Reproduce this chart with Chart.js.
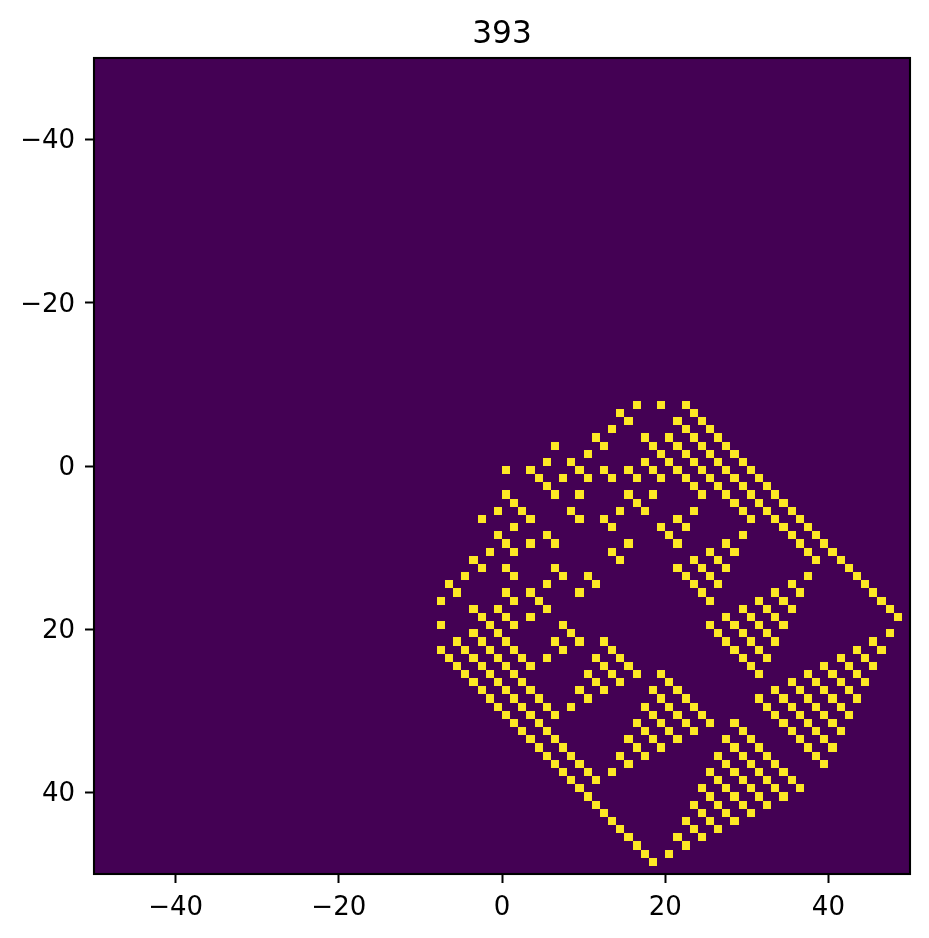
<!DOCTYPE html>
<html>
<head>
<meta charset="utf-8">
<style>html,body{margin:0;padding:0;background:#fff}canvas{display:block}</style>
<script src="https://cdn.jsdelivr.net/npm/chart.js@4/dist/chart.umd.js"></script>
</head>
<body>
<canvas id="c" width="929" height="938"></canvas>
<script>
const chartTitle = '393';
const tickValues = [-40, -20, 0, 20, 40];
const axisMin = -50;
const axisMax = 50;
const rowStart = -8;
// lit cell columns, one list per row, starting at rowStart
const rowColumns = [
[16,19,22],
[14,23],
[15,21,24],
[13,22,25],
[11,17,20,23,26],
[6,12,18,21,24,27],
[10,19,22,25,28],
[5,8,17,20,23,26,29],
[0,3,9,12,15,18,21,24,27,30],
[4,7,10,13,16,19,22,25,28,31],
[5,23,26,29,32],
[0,6,9,15,18,24,27,30,33],
[1,16,28,31,34],
[-1,2,8,14,17,23,29,32,35],
[-3,3,9,12,21,30,33,36],
[1,13,19,22,34,37],
[-1,5,20,29,35,38],
[0,3,6,15,21,27,36,39],
[-2,1,13,25,28,37,40],
[-4,14,23,26,38,41],
[-3,0,6,21,24,27,42],
[-5,1,7,10,22,25,37,43],
[-7,5,11,23,26,35,44],
[-6,0,3,9,24,33,36,45],
[-8,1,4,25,31,34,46],
[-4,-1,5,29,32,35,47],
[-3,0,3,27,30,33,48],
[-8,-2,1,7,25,28,31,34],
[-4,-1,8,26,29,32,47],
[-6,-3,0,6,9,12,27,30,33,45],
[-8,-5,-2,1,7,13,28,31,43,46],
[-7,-4,-1,2,5,11,14,29,32,41,44],
[-6,-3,0,3,12,15,30,39,42,45],
[-5,-2,1,10,13,16,19,31,37,40,43],
[-4,-1,2,11,14,20,35,38,41,44],
[-3,0,3,9,12,18,21,33,36,39,42],
[-2,1,4,10,19,22,31,34,37,40,43],
[-1,2,5,8,17,20,23,32,35,38,41],
[0,3,6,18,21,24,33,36,39,42],
[1,4,16,19,22,25,28,34,37,40],
[2,5,17,20,23,29,35,38,41],
[3,6,15,18,21,27,30,36,39],
[4,7,16,19,28,31,37,40],
[5,8,14,17,26,29,32,38],
[6,9,15,27,30,33,39],
[7,10,13,25,28,31,34],
[8,11,26,29,32,35],
[9,24,27,30,33,36],
[10,25,28,31,34],
[11,23,26,29,32],
[12,24,27,30],
[13,22,25,28],
[14,23,26],
[15,21,24],
[16,22],
[17,20],
[18]
];

const BG = '#440154';
const FG = '#fde725';
const FONT = '"DejaVu Sans"';

const cells = [];
rowColumns.forEach((cols, i) => cols.forEach(c => cells.push({x: c + 0.5, y: rowStart + i + 0.5})));

const frame = {
  id: 'frame',
  beforeDatasetsDraw(chart) {
    const a = chart.chartArea, g = chart.ctx;
    g.save(); g.fillStyle = BG;
    g.fillRect(a.left, a.top, a.right - a.left, a.bottom - a.top);
    g.restore();
  },
  beforeDatasetDraw(chart, args) {
    // paint each library-positioned cell snapped to whole pixels, as an image would be
    const sx = chart.scales.x, sy = chart.scales.y, g = chart.ctx;
    g.save(); g.fillStyle = FG;
    args.meta.data.forEach((el, i) => {
      const p = cells[i];
      const x0 = Math.round(sx.getPixelForValue(p.x - 0.5)), x1 = Math.round(sx.getPixelForValue(p.x + 0.5));
      const y0 = Math.round(sy.getPixelForValue(p.y - 0.5)), y1 = Math.round(sy.getPixelForValue(p.y + 0.5));
      g.fillRect(x0, y0, x1 - x0, y1 - y0);
    });
    g.restore();
    return false;
  },
  afterDatasetsDraw(chart) {
    const a = chart.chartArea, g = chart.ctx;
    g.save(); g.strokeStyle = '#000'; g.lineWidth = 2.1;
    g.strokeRect(a.left, a.top, a.right - a.left, a.bottom - a.top);
    g.restore();
  }
};

function axis(extra) {
  return Object.assign({
    type: 'linear', min: axisMin, max: axisMax,
    afterBuildTicks(s) { s.ticks = tickValues.map(v => ({value: v})); },
    grid: {drawOnChartArea: false, drawTicks: true, tickLength: 9, tickWidth: 2, tickColor: '#000'},
    border: {display: false}
  }, extra);
}
const tickOpts = (pad, offset) => ({
  autoSkip: false, maxRotation: 0, minRotation: 0, padding: pad, labelOffset: offset, color: '#000',
  font: {family: FONT, size: 26, weight: 'normal'},
  callback: v => String(v).replace('-', '\u2212')
});

new Chart(document.getElementById('c'), {
  type: 'scatter',
  data: {datasets: [{data: cells, pointStyle: 'rect', pointRadius: 5.77, backgroundColor: FG, borderWidth: 0}]},
  plugins: [frame],
  options: {
    responsive: false, animation: false, events: [],
    layout: {padding: {right: 19, left: 0, top: 0, bottom: 0}},
    plugins: {
      legend: {display: false}, tooltip: {enabled: false},
      title: {display: true, text: chartTitle, color: '#000', fullSize: false,
        font: {family: FONT, size: 31.2, weight: 'normal', lineHeight: 1.2},
        padding: {top: 16, bottom: 4.56}}
    },
    scales: {
      x: axis({position: 'bottom', ticks: tickOpts(10, 0),
        afterFit(s) { s.height = 64; s.paddingLeft = 0; s.paddingRight = 0; }}),
      y: axis({position: 'left', reverse: true, ticks: tickOpts(10, 2),
        afterFit(s) { s.width = 94; s.paddingTop = 0; s.paddingBottom = 0; }})
    }
  }
});
</script>
</body>
</html>
